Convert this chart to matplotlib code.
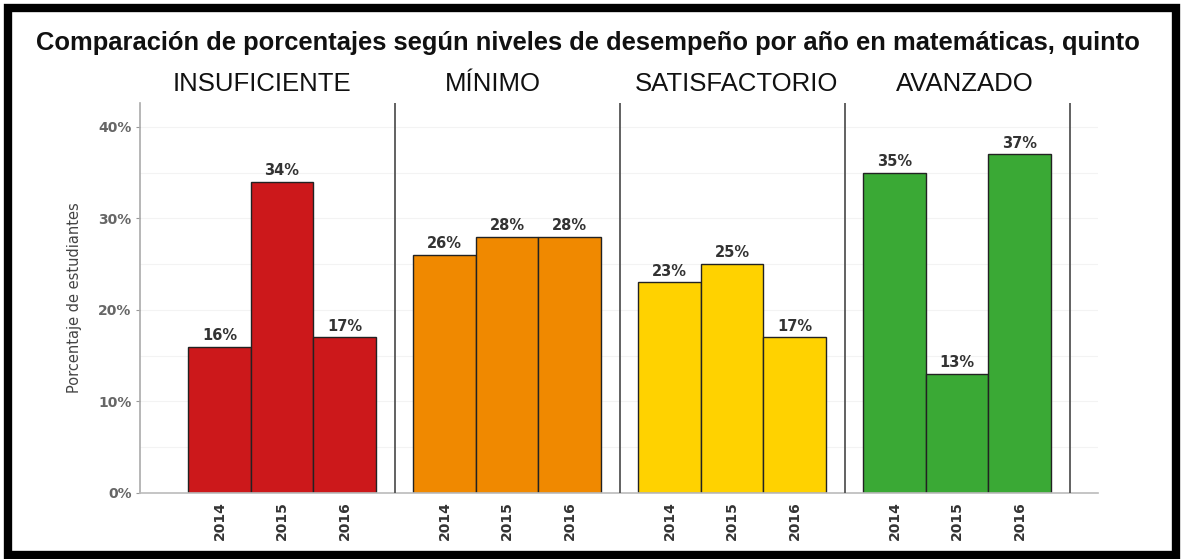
import matplotlib
matplotlib.use("Agg")
import matplotlib.pyplot as plt
from matplotlib.patches import Rectangle

title = "Comparación de porcentajes según niveles de desempeño por año en matemáticas, quinto"
levels = ["INSUFICIENTE", "MÍNIMO", "SATISFACTORIO", "AVANZADO"]
years = ["2014", "2015", "2016"]
values = {
    "INSUFICIENTE": [16, 34, 17],
    "MÍNIMO": [26, 28, 28],
    "SATISFACTORIO": [23, 25, 17],
    "AVANZADO": [35, 13, 37],
}
colors = ["#CC181B", "#F08900", "#FFD200", "#3AA935"]
yticks = [0, 10, 20, 30, 40]

W, H = 1183, 559
fig = plt.figure(figsize=(W / 100, H / 100), dpi=100)
fig.patch.set_facecolor("white")

ax_left, ax_right, ax_top, ax_bot = 140, 1098, 103, 493
ax = fig.add_axes([ax_left / W, 1 - ax_bot / H, (ax_right - ax_left) / W, (ax_bot - ax_top) / H])

bar_px = 62.5
panel_w = 3.6
c0_px = 282
xmin = -(c0_px - ax_left) / bar_px
xmax = (ax_right - c0_px) / bar_px
ax.set_xlim(xmin, xmax)
ax.set_ylim(0, 42.6)

# faint grid
for g in [5, 10, 15, 20, 25, 30, 35, 40]:
    ax.axhline(g, color="#f3f3f3", lw=0.8, zorder=0)

xt, xl = [], []
for k, lvl in enumerate(levels):
    c = k * panel_w
    xs = [c - 1, c, c + 1]
    ax.bar(xs, values[lvl], width=1.0, color=colors[k], edgecolor="#222222", linewidth=1.0, zorder=2)
    for x, v in zip(xs, values[lvl]):
        ax.text(x, v + 0.4, f"{v}%", ha="center", va="bottom", fontsize=10.5, fontweight="bold",
                color="#333333", family="DejaVu Sans")
    ax.axvline(c + panel_w / 2, color="#555555", lw=1.3, zorder=3)
    xt += xs
    xl += years
    # facet label
    tx = [262, 493, 737, 965][k]
    fig.text(tx / W, 1 - 84 / H, lvl, ha="center", va="center", fontsize=18.5,
             family="Liberation Sans", color="#111111")

ax.set_xticks(xt)
ax.set_xticklabels(xl, rotation=90, fontsize=10, fontweight="bold", color="#333333")
ax.set_yticks(yticks)
ax.set_yticklabels([f"{t}%" for t in yticks], fontsize=10, fontweight="bold", color="#666666")
ax.tick_params(axis="x", length=0, pad=6)
ax.tick_params(axis="y", length=3, color="#999999", pad=3)
for s in ["top", "right"]:
    ax.spines[s].set_visible(False)
ax.spines["left"].set_color("#aaaaaa")
ax.spines["left"].set_linewidth(1.2)
ax.spines["bottom"].set_color("#bbbbbb")
ax.spines["bottom"].set_linewidth(1.2)
ax.set_ylabel("Porcentaje de estudiantes", fontsize=10.5, color="#444444", labelpad=12)

fig.text((36 + 1140) / 2 / W, 1 - 43 / H, title, ha="center", va="center", fontsize=18.4,
         fontweight="bold", family="Liberation Sans", color="#111111")

# outer black border
fig.patches.append(Rectangle((8 / W, 4 / H), (1176 - 8) / W, (551 - 4) / H,
                             transform=fig.transFigure, fill=False, edgecolor="black",
                             linewidth=6, zorder=10))

fig.savefig("out.png", dpi=100, facecolor="white")
